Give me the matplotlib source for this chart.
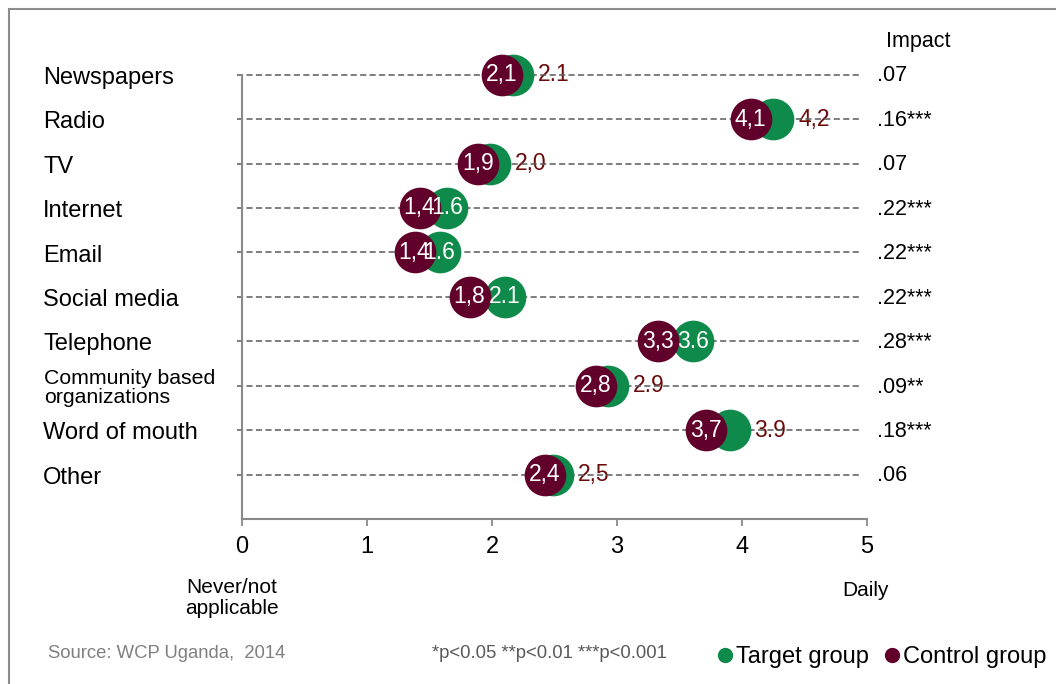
import matplotlib.pyplot as plt
import matplotlib.patches as mpatches
from matplotlib.lines import Line2D
import numpy as np

plt.rcParams['font.family'] = ['Liberation Sans', 'DejaVu Sans']

# data (scale: 0 = never/not applicable, 5 = daily)
categories = ['Newspapers', 'Radio', 'TV', 'Internet', 'Email', 'Social media',
              'Telephone', 'Community based\norganizations', 'Word of mouth', 'Other']
control = [2.08, 4.07, 1.89, 1.42, 1.38, 1.82, 3.33, 2.83, 3.71, 2.42]
target = [2.17, 4.25, 1.98, 1.64, 1.58, 2.10, 3.61, 2.93, 3.90, 2.49]
control_labels = ['2,1', '4,1', '1,9', '1,4', '1,4', '1,8', '3,3', '2,8', '3,7', '2,4']
target_labels = ['2.1', '4,2', '2,0', '1.6', '1.6', '2.1', '3.6', '2.9', '3.9', '2,5']
impact = ['.07', '.16***', '.07', '.22***', '.22***', '.22***', '.28***', '.09**', '.18***', '.06']

green = '#0E8A4A'
maroon = '#62002C'
label_red = '#6A0C0C'
axis_gray = '#8A8A8A'

fig = plt.figure(figsize=(10.56, 6.84), dpi=100)
ax = fig.add_axes([242 / 1056, 1 - 519 / 684, 625 / 1056, 511 / 684])

rows = np.arange(len(categories))

# dashed guide lines
ax.hlines(rows, -0.04, 4.95, colors='#5A5A5A', linestyles=(0, (4, 2.2)), lw=1.1, zorder=2,
          clip_on=False)

# dots
ax.scatter(target, rows, s=900, color=green, zorder=3, linewidths=0)
ax.scatter(control, rows, s=900, color=maroon, zorder=4, linewidths=0)

for i in rows:
    ax.text(control[i], i, control_labels[i], color='white', fontsize=16.5,
            ha='center', va='center', zorder=6)
    if target[i] - control[i] > 0.2:
        ax.text(target[i], i, target_labels[i], color='white', fontsize=16.5,
                ha='center', va='center', zorder=5)
    else:
        ax.text(target[i] + 0.2, i, target_labels[i], color=label_red, fontsize=16.5,
                ha='left', va='center', zorder=1.5)

# category names and impact column
ytr = ax.get_yaxis_transform()
for i, name in enumerate(categories):
    if '\n' in name:
        ax.text(-0.317, i + 0.05, name, fontsize=15.3, ha='left', va='center', transform=ytr,
                linespacing=1.0)
    else:
        ax.text(-0.318, i + 0.07, name, fontsize=17, ha='left', va='center', transform=ytr)
    ax.text(1.016, i + 0.03, impact[i], fontsize=15.5, ha='left', va='center', transform=ytr)
ax.text(1.03, -0.74, 'Impact', fontsize=15.5, ha='left', va='center', transform=ytr)

ax.set_xlim(0, 5)
ax.set_ylim(10, -1.5)
ax.set_xticks(range(6))
ax.tick_params(axis='x', length=5, width=1.3, color=axis_gray, labelsize=17, pad=7)
ax.set_yticks([])
for s in ['top', 'right']:
    ax.spines[s].set_visible(False)
ax.spines['bottom'].set_color(axis_gray)
ax.spines['bottom'].set_linewidth(1.5)
ax.spines['left'].set_color(axis_gray)
ax.spines['left'].set_linewidth(1.5)
ax.spines['left'].set_bounds(0, 10)

# scale end descriptions
fig.text(232 / 1056, 1 - 598 / 684, 'Never/not\napplicable', fontsize=15,
         ha='center', va='center', linespacing=1.1)
fig.text(866 / 1056, 1 - 591 / 684, 'Daily', fontsize=15, ha='center', va='center')

# footer
fig.text(48 / 1056, 1 - 653 / 684, 'Source: WCP Uganda,  2014', fontsize=13.3,
         color='#808080', ha='left', va='center')
fig.text(432 / 1056, 1 - 653 / 684, '*p<0.05 **p<0.01 ***p<0.001', fontsize=13.3,
         color='#595959', ha='left', va='center')

handles = [Line2D([], [], marker='o', ls='', color=green, markersize=10),
           Line2D([], [], marker='o', ls='', color=maroon, markersize=10)]
fig.legend(handles, ['Target group', 'Control group'], loc='center left',
           bbox_to_anchor=(706 / 1056, 1 - 657 / 684), ncol=2, frameon=False,
           fontsize=17, handlelength=0.6, handletextpad=0.15, columnspacing=0.7,
           borderpad=0)

# outer frame
fig.patches.append(mpatches.Rectangle((9 / 1056, -0.1), 1.2, 1.1 - 9 / 684, fill=False,
                                      ec='#8C8C8C', lw=1.5, transform=fig.transFigure,
                                      figure=fig))

fig.savefig('out.png', dpi=100)
